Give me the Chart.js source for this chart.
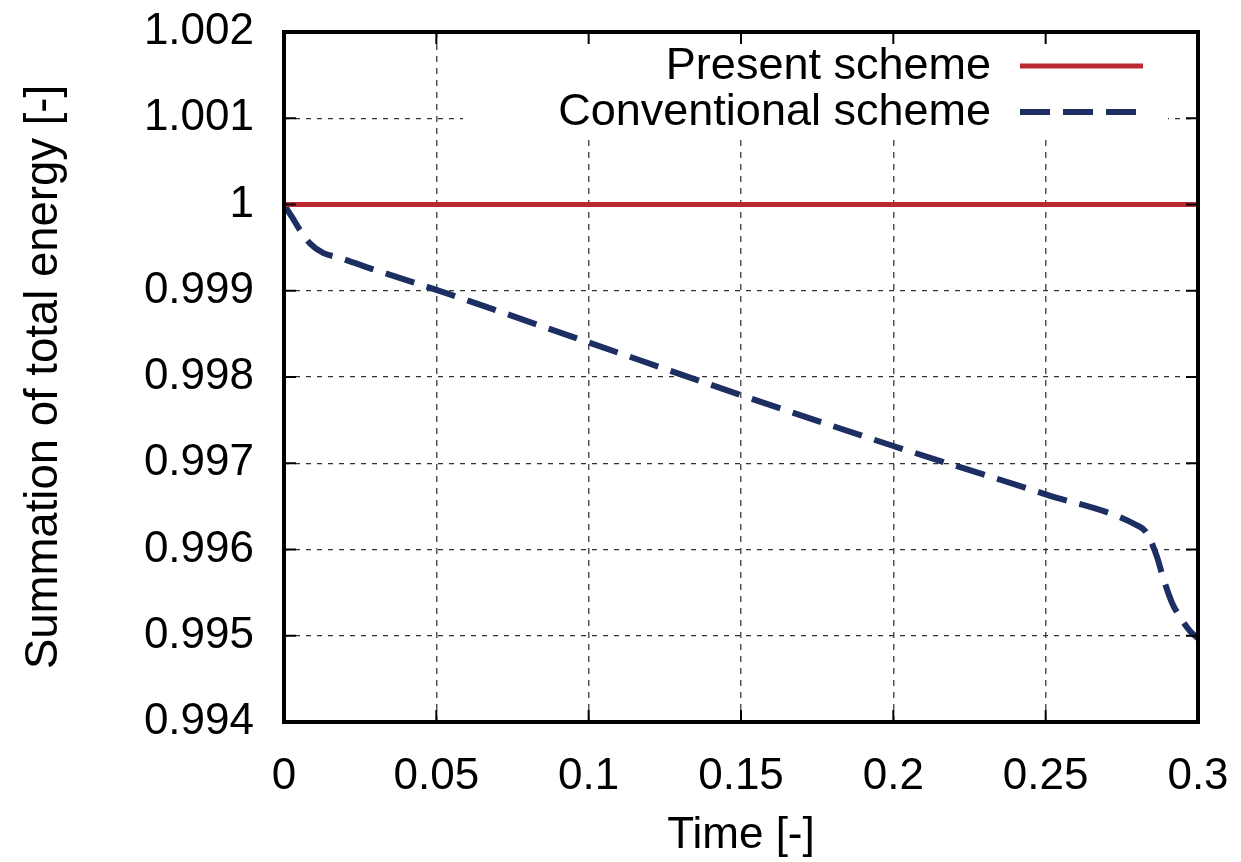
<!DOCTYPE html>
<html lang="en">
<head>
<meta charset="UTF-8">
<title>Summation of total energy</title>
<script src="https://cdn.jsdelivr.net/npm/chart.js"></script>
<style>
    body { margin: 0; background: #fff; }
</style>
</head>
<body>
<canvas id="myChart" width="1241" height="862"></canvas>
<script>
// values
const timePresent = [0, 0.3];
const energyPresent = [1.0, 1.0];

const timeConv = [0, 0.0027, 0.0053, 0.0085, 0.0128, 0.0184, 0.03, 0.05, 0.1, 0.15, 0.2, 0.25,
                  0.28, 0.283, 0.2865, 0.2885, 0.2915, 0.294, 0.2975, 0.3];
const energyConv = [1.0, 0.99985, 0.9997, 0.99955, 0.99944, 0.99938, 0.99924, 0.99901, 0.9984, 0.99779, 0.9972, 0.99664,
                    0.99628, 0.9962, 0.99592, 0.99568, 0.99538, 0.99522, 0.99505, 0.99497];

const xTicks = [0, 0.05, 0.1, 0.15, 0.2, 0.25, 0.3];
const xTickLabels = ['0', '0.05', '0.1', '0.15', '0.2', '0.25', '0.3'];
const yTicks = [0.994, 0.995, 0.996, 0.997, 0.998, 0.999, 1.0, 1.001, 1.002];
const yTickLabels = ['0.994', '0.995', '0.996', '0.997', '0.998', '0.999', '1', '1.001', '1.002'];

const seriesNames = ['Present scheme', 'Conventional scheme'];
const RED = '#bb2a33';
const BLUE = '#1c2e62';
const FONT = 'Liberation Sans, Arial, Helvetica, sans-serif';

function pts(xs, ys) { return xs.map((x, i) => ({ x: x, y: ys[i] })); }

// gnuplot-like frame: white legend box hiding the grid, border, inward tics, legend
const framePlugin = {
    id: 'frame',
    beforeDatasetsDraw(chart) {
        const ctx = chart.ctx;
        const a = chart.chartArea;
        ctx.save();
        ctx.fillStyle = '#fff';
        ctx.fillRect(463, a.top, 1168 - 463, 140 - a.top);
        ctx.restore();
    },
    afterDraw(chart) {
        const ctx = chart.ctx;
        const a = chart.chartArea;
        const xs = chart.scales.x, ys = chart.scales.y;
        ctx.save();
        ctx.strokeStyle = '#000';
        ctx.lineWidth = 2;
        ctx.beginPath();
        xTicks.forEach(v => {
            const px = xs.getPixelForValue(v);
            ctx.moveTo(px, a.bottom); ctx.lineTo(px, a.bottom - 12);
            ctx.moveTo(px, a.top); ctx.lineTo(px, a.top + 12);
        });
        yTicks.forEach(v => {
            const py = ys.getPixelForValue(v);
            ctx.moveTo(a.left, py); ctx.lineTo(a.left + 12, py);
            ctx.moveTo(a.right, py); ctx.lineTo(a.right - 12, py);
        });
        ctx.stroke();

        ctx.lineWidth = 4;
        ctx.strokeRect(a.left, a.top, a.right - a.left, a.bottom - a.top);

        // legend
        ctx.font = '45px ' + FONT;
        ctx.fillStyle = '#000';
        ctx.textAlign = 'right';
        ctx.textBaseline = 'middle';
        ctx.fillText(seriesNames[0], 991, 67);
        ctx.fillText(seriesNames[1], 991, 113);

        ctx.lineWidth = 5;
        ctx.strokeStyle = RED;
        ctx.beginPath();
        ctx.moveTo(1020, 66); ctx.lineTo(1143, 66);
        ctx.stroke();

        ctx.lineWidth = 6;
        ctx.strokeStyle = BLUE;
        ctx.setLineDash([30, 13]);
        ctx.beginPath();
        ctx.moveTo(1020, 112); ctx.lineTo(1140, 112);
        ctx.stroke();
        ctx.restore();
    }
};

const ctx = document.getElementById('myChart');

new Chart(ctx, {
    type: 'line',
    data: {
        datasets: [{
            label: seriesNames[0],
            data: pts(timePresent, energyPresent),
            borderColor: RED,
            borderWidth: 5,
            pointRadius: 0,
            fill: false
        }, {
            label: seriesNames[1],
            data: pts(timeConv, energyConv),
            borderColor: BLUE,
            borderWidth: 6,
            borderDash: [30, 13],
            pointRadius: 0,
            fill: false,
            cubicInterpolationMode: 'monotone'
        }]
    },
    options: {
        responsive: false,
        animation: false,
        layout: { padding: { top: 32, right: 43, bottom: 0, left: 0 } },
        plugins: {
            legend: { display: false },
            tooltip: { enabled: false }
        },
        scales: {
            x: {
                type: 'linear',
                min: 0,
                max: 0.3,
                afterBuildTicks: s => { s.ticks = xTicks.map(v => ({ value: v })); },
                afterFit: s => { s.height = 140; s.paddingLeft = 0; s.paddingRight = 0; },
                grid: {
                    color: '#555',
                    lineWidth: 1.5,
                    drawTicks: false
                },
                border: { display: false, dash: [6, 6] },
                ticks: {
                    color: '#000',
                    font: { family: FONT, size: 44 },
                    padding: 28,
                    maxRotation: 0,
                    callback: (v, i) => xTickLabels[i]
                },
                title: {
                    display: true,
                    text: 'Time [-]',
                    color: '#000',
                    font: { family: FONT, size: 44 },
                    padding: { top: 4, bottom: 0 }
                }
            },
            y: {
                min: 0.994,
                max: 1.002,
                afterBuildTicks: s => { s.ticks = yTicks.map(v => ({ value: v })); },
                afterFit: s => { s.width = 284; s.paddingTop = 0; s.paddingBottom = 0; },
                grid: {
                    color: '#333',
                    lineWidth: 1.2,
                    drawTicks: false
                },
                border: { display: false, dash: [5, 6] },
                ticks: {
                    color: '#000',
                    font: { family: FONT, size: 44 },
                    padding: 30,
                    callback: (v, i) => yTickLabels[i]
                },
                title: {
                    display: true,
                    text: 'Summation of total energy [-]',
                    color: '#000',
                    font: { family: FONT, size: 45.5 },
                    padding: { top: 17, bottom: 0 }
                }
            }
        }
    },
    plugins: [framePlugin]
});
</script>
</body>
</html>
